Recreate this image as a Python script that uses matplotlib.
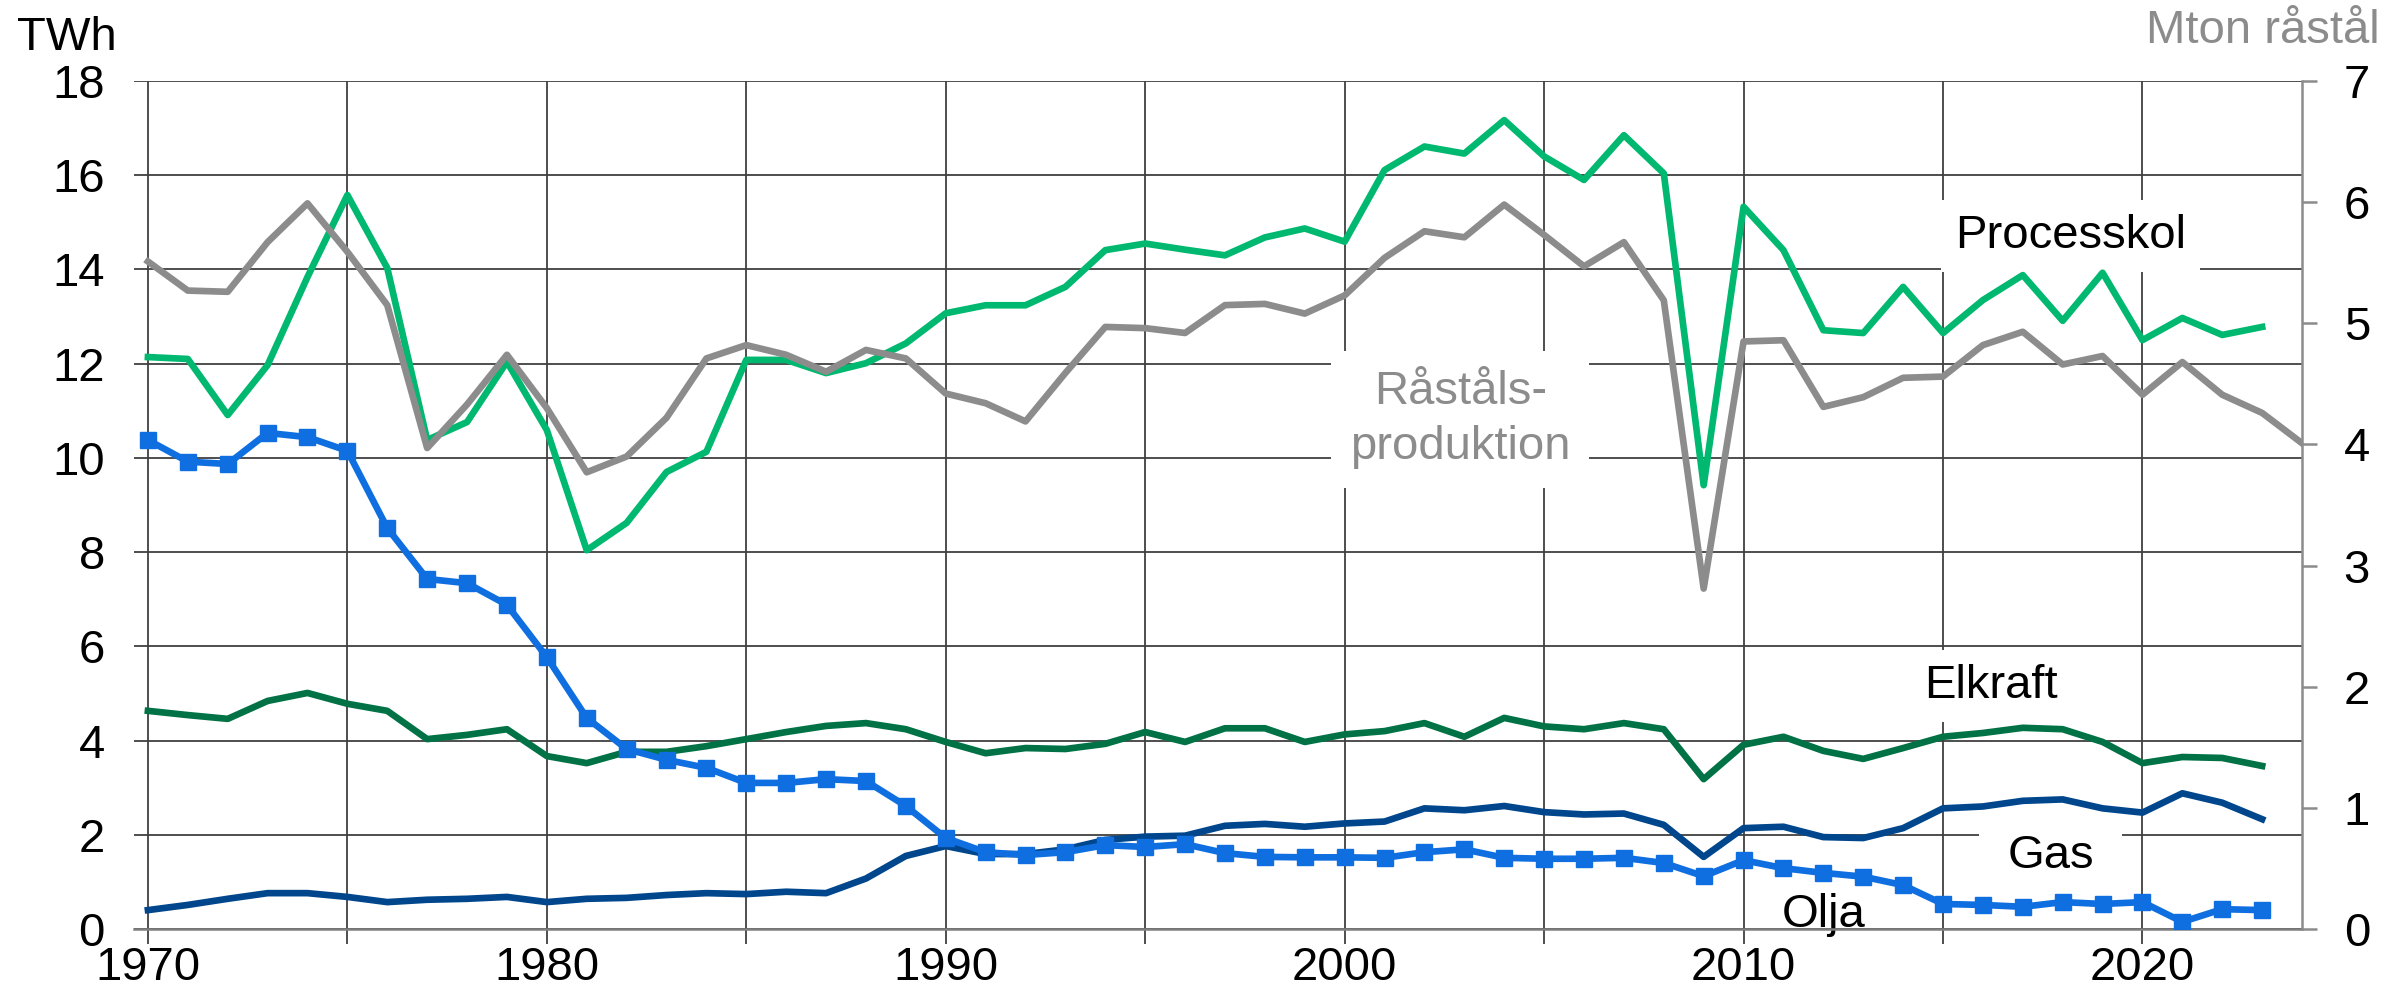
import matplotlib
matplotlib.use("Agg")
import matplotlib.pyplot as plt

# years 1970-2023 (steel production also has 2024)
years = list(range(1970, 2024))
steel_years = list(range(1970, 2025))

processkol = [12.14, 12.10, 10.91, 11.97, 13.84, 15.58, 14.03, 10.38, 10.76, 12.04,
              10.59, 8.04, 8.62, 9.70, 10.13, 12.08, 12.08, 11.80, 12.01, 12.43,
              13.07, 13.24, 13.24, 13.63, 14.41, 14.55, 14.42, 14.30, 14.68, 14.87,
              14.59, 16.11, 16.61, 16.46, 17.17, 16.40, 15.90, 16.85, 16.04, 9.42,
              15.33, 14.41, 12.71, 12.65, 13.63, 12.65, 13.35, 13.88, 12.91, 13.93,
              12.50, 12.97, 12.61, 12.78]

elkraft = [4.63, 4.54, 4.46, 4.84, 5.01, 4.78, 4.63, 4.03, 4.12, 4.24,
           3.67, 3.52, 3.76, 3.76, 3.88, 4.03, 4.18, 4.31, 4.37, 4.24,
           3.97, 3.73, 3.84, 3.82, 3.93, 4.18, 3.97, 4.26, 4.26, 3.97,
           4.13, 4.20, 4.37, 4.08, 4.48, 4.30, 4.24, 4.37, 4.24, 3.18,
           3.91, 4.08, 3.78, 3.61, 3.84, 4.08, 4.16, 4.27, 4.24, 3.97,
           3.52, 3.65, 3.63, 3.46]

gas = [0.40, 0.51, 0.64, 0.76, 0.76, 0.68, 0.57, 0.62, 0.64, 0.68,
       0.57, 0.64, 0.66, 0.72, 0.76, 0.74, 0.79, 0.76, 1.07, 1.55,
       1.76, 1.59, 1.59, 1.69, 1.89, 1.96, 1.98, 2.19, 2.23, 2.17,
       2.24, 2.28, 2.56, 2.52, 2.61, 2.48, 2.43, 2.45, 2.21, 1.53,
       2.14, 2.17, 1.95, 1.93, 2.14, 2.56, 2.60, 2.72, 2.75, 2.56,
       2.47, 2.88, 2.68, 2.33]

olja = [10.38, 9.92, 9.87, 10.53, 10.44, 10.15, 8.51, 7.43, 7.34, 6.88,
        5.77, 4.48, 3.82, 3.59, 3.42, 3.10, 3.10, 3.18, 3.14, 2.61,
        1.93, 1.63, 1.57, 1.63, 1.78, 1.74, 1.80, 1.61, 1.53, 1.52,
        1.52, 1.51, 1.63, 1.69, 1.51, 1.49, 1.49, 1.51, 1.40, 1.12,
        1.46, 1.29, 1.19, 1.11, 0.93, 0.53, 0.51, 0.47, 0.57, 0.53,
        0.57, 0.15, 0.42, 0.40]

# Mton crude steel (right axis)
rastal = [5.51, 5.27, 5.26, 5.67, 5.99, 5.59, 5.15, 3.97, 4.33, 4.74,
          4.30, 3.77, 3.90, 4.22, 4.71, 4.82, 4.74, 4.60, 4.78, 4.71,
          4.42, 4.34, 4.19, 4.59, 4.97, 4.96, 4.92, 5.15, 5.16, 5.08,
          5.23, 5.54, 5.76, 5.71, 5.98, 5.73, 5.47, 5.67, 5.19, 2.81,
          4.85, 4.86, 4.31, 4.39, 4.55, 4.56, 4.82, 4.93, 4.66, 4.73,
          4.41, 4.68, 4.41, 4.26, 4.01]

plt.rcParams['font.family'] = ['Liberation Sans', 'DejaVu Sans']
FS = 34
GRAY = '#8c8c8c'
GRID = '#404040'

fig = plt.figure(figsize=(23.88, 9.93), dpi=100)
ax = fig.add_axes([0.0561, 0.0645, 0.9079, 0.8539])
ax2 = ax.twinx()

ax.set_xlim(1969.65, 2024.0)
ax.set_ylim(0, 18)
ax2.set_ylim(0, 7)

ax.set_axisbelow(True)
ax.set_yticks(range(0, 19, 2))
ax.set_xticks(range(1970, 2021, 5))
ax.set_xticklabels([str(y) if y % 10 == 0 else '' for y in range(1970, 2021, 5)])
ax.grid(True, color=GRID, linewidth=1.3)
ax.tick_params(axis='y', length=0, pad=21, labelsize=FS)
ax.tick_params(axis='x', length=11, width=1.3, color=GRID, pad=1, labelsize=FS)

for s in ['top', 'left', 'right']:
    ax.spines[s].set_visible(False)
    ax2.spines[s].set_visible(False)
ax.spines['bottom'].set_color('#7f7f7f')
ax.spines['bottom'].set_linewidth(1.8)
ax2.spines['bottom'].set_visible(False)
ax2.spines['right'].set_visible(True)
ax2.spines['right'].set_color(GRAY)
ax2.spines['right'].set_linewidth(1.8)
ax2.set_yticks(range(0, 8))
ax2.tick_params(axis='y', length=11, width=1.8, color=GRAY, pad=19, labelsize=FS)

lw = 4.8
ax.plot(years, processkol, color='#00b870', lw=lw, zorder=3)
ax.plot(years, elkraft, color='#007245', lw=lw, zorder=3)
ax.plot(years, gas, color='#00468c', lw=lw, zorder=3)
ax.plot(years, olja, color='#0f6fe0', lw=lw, marker='s', markersize=11, zorder=3)
ax2.plot(steel_years, rastal, color=GRAY, lw=lw, zorder=3)

box = dict(boxstyle='square,pad=0.3', fc='white', ec='none')
ax.text(2018.2, 14.46, 'Processkol', fontsize=FS, ha='center', va='baseline', bbox=box, zorder=2.5)
ax.text(2002.9, 10.82, 'Råståls-\nproduktion', fontsize=FS, ha='center', va='center',
        color=GRAY, linespacing=1.33, bbox=dict(boxstyle='square,pad=0.4', fc='white', ec='none'),
        zorder=2.5)
ax.text(2016.2, 4.90, 'Elkraft', fontsize=FS, ha='center', va='baseline', bbox=box, zorder=2.5)
ax.text(2017.7, 1.29, 'Gas', fontsize=FS, ha='center', va='baseline',
        bbox=dict(boxstyle='square,pad=0.6', fc='white', ec='none'), zorder=2.5)
ax.text(2012.0, 0.04, 'Olja', fontsize=FS, ha='center', va='baseline', zorder=2.5)

fig.text(0.0071, 0.9496, 'TWh', fontsize=FS, ha='left', va='baseline')
fig.text(0.9966, 0.9567, 'Mton råstål', fontsize=FS, ha='right', va='baseline', color=GRAY)

fig.savefig('out.png', dpi=100)
